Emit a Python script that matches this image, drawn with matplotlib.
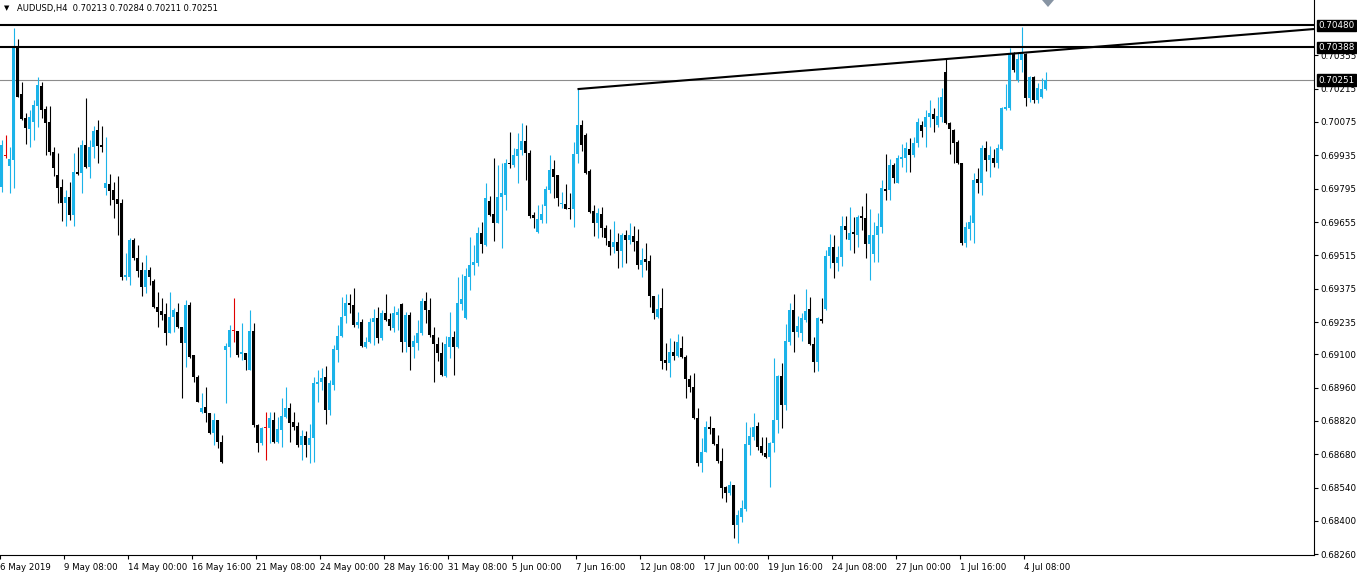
import matplotlib
matplotlib.use("Agg")
import matplotlib.pyplot as plt
import matplotlib.transforms as mtransforms
from matplotlib.patches import Polygon

# AUDUSD H4 candles, one per bar
opens = [
    0.69802, 0.69932, 0.69890, 0.69915, 0.70385, 0.70192, 0.70091, 0.70045, 0.70075, 0.70142,
    0.70226, 0.70129, 0.70075, 0.69949, 0.69852, 0.69802, 0.69734, 0.69760, 0.69684, 0.69865,
    0.69860, 0.69978, 0.69886, 0.69970, 0.70041, 0.69978, 0.69797, 0.69814, 0.69789, 0.69751,
    0.69734, 0.69424, 0.69424, 0.69579, 0.69503, 0.69453, 0.69382, 0.69453, 0.69407, 0.69298,
    0.69282, 0.69269, 0.69189, 0.69257, 0.69278, 0.69215, 0.69147, 0.69307, 0.69097, 0.69005,
    0.68858, 0.68878, 0.68853, 0.68769, 0.68824, 0.68732, 0.69118, 0.69131, 0.69198, 0.69198,
    0.69101, 0.69105, 0.69034, 0.69198, 0.68803, 0.68727, 0.68790, 0.68790, 0.68824, 0.68732,
    0.68782, 0.68837, 0.68874, 0.68816, 0.68799, 0.68719, 0.68757, 0.68719, 0.68748, 0.68975,
    0.68984, 0.69005, 0.68866, 0.68971, 0.69118, 0.69177, 0.69261, 0.69315, 0.69307, 0.69223,
    0.69236, 0.69131, 0.69152, 0.69236, 0.69252, 0.69168, 0.69273, 0.69248, 0.69210, 0.69265,
    0.69311, 0.69152, 0.69265, 0.69131, 0.69147, 0.69189, 0.69324, 0.69286, 0.69181, 0.69143,
    0.69105, 0.69009, 0.69131, 0.69173, 0.69131, 0.69311, 0.69252, 0.69424, 0.69474, 0.69482,
    0.69608, 0.69558, 0.69743, 0.69688, 0.69650, 0.69760, 0.69768, 0.69902, 0.69894, 0.69932,
    0.69957, 0.69995, 0.69944, 0.69684, 0.69613, 0.69663, 0.69722, 0.69789, 0.69877, 0.69852,
    0.69730, 0.69730, 0.69714, 0.69709, 0.69940, 0.70062, 0.70020, 0.69869, 0.69701, 0.69650,
    0.69688, 0.69629, 0.69575, 0.69550, 0.69571, 0.69533, 0.69600, 0.69579, 0.69596, 0.69575,
    0.69474, 0.69499, 0.69491, 0.69344, 0.69257, 0.69294, 0.69076, 0.69063, 0.69110, 0.69093,
    0.69126, 0.69088, 0.68996, 0.68962, 0.68832, 0.68643, 0.68690, 0.68795, 0.68790, 0.68723,
    0.68652, 0.68543, 0.68517, 0.68551, 0.68383, 0.68417, 0.68450, 0.68719, 0.68753, 0.68799,
    0.68715, 0.68685, 0.68669, 0.68727, 0.68824, 0.69009, 0.68887, 0.69152, 0.69286, 0.69194,
    0.69189, 0.69244, 0.69290, 0.69143, 0.69068, 0.69248, 0.69290, 0.69512, 0.69550, 0.69482,
    0.69508, 0.69638, 0.69579, 0.69613, 0.69600, 0.69680, 0.69671, 0.69562, 0.69520, 0.69600,
    0.69634, 0.69793, 0.69789, 0.69894, 0.69818, 0.69919, 0.69923, 0.69961, 0.69936, 0.69986,
    0.70062, 0.70054, 0.70096, 0.70108, 0.70062, 0.70096, 0.70285, 0.70070, 0.70041, 0.69991,
    0.69902, 0.69566, 0.69625, 0.69650, 0.69835, 0.69818, 0.69966, 0.69915, 0.69923, 0.69902,
    0.69961, 0.70129, 0.70133, 0.70360, 0.70251, 0.70335, 0.70360, 0.70175, 0.70264, 0.70167,
    0.70180, 0.70213,
]
highs = [
    0.69999, 0.70020, 0.69970, 0.70469, 0.70423, 0.70243, 0.70112, 0.70125, 0.70167, 0.70264,
    0.70243, 0.70142, 0.70142, 0.69970, 0.69944, 0.69835, 0.69789, 0.69823, 0.69944, 0.69970,
    0.69999, 0.70175, 0.69999, 0.70058, 0.70083, 0.70058, 0.70012, 0.69856, 0.69823, 0.69848,
    0.69751, 0.69524, 0.69587, 0.69587, 0.69558, 0.69487, 0.69516, 0.69466, 0.69415, 0.69361,
    0.69336, 0.69315, 0.69361, 0.69294, 0.69315, 0.69215, 0.69328, 0.69320, 0.69097, 0.69013,
    0.68937, 0.68962, 0.68853, 0.68853, 0.68824, 0.68761, 0.69147, 0.69223, 0.69336, 0.69198,
    0.69231, 0.69105, 0.69286, 0.69231, 0.68807, 0.68795, 0.68858, 0.68858, 0.68858, 0.68837,
    0.68916, 0.68962, 0.68895, 0.68858, 0.68816, 0.68782, 0.68778, 0.68807, 0.69005, 0.69034,
    0.69042, 0.69051, 0.68992, 0.69139, 0.69223, 0.69340, 0.69353, 0.69353, 0.69378, 0.69278,
    0.69248, 0.69173, 0.69252, 0.69290, 0.69298, 0.69286, 0.69353, 0.69273, 0.69303, 0.69294,
    0.69315, 0.69278, 0.69278, 0.69181, 0.69244, 0.69336, 0.69361, 0.69336, 0.69215, 0.69173,
    0.69152, 0.69177, 0.69278, 0.69198, 0.69424, 0.69436, 0.69461, 0.69592, 0.69558, 0.69634,
    0.69655, 0.69818, 0.69764, 0.69923, 0.69894, 0.69902, 0.69919, 0.70033, 0.69966, 0.70028,
    0.70070, 0.70062, 0.69957, 0.69697, 0.69726, 0.69730, 0.69806, 0.69936, 0.69915, 0.69852,
    0.69781, 0.69814, 0.69776, 0.69991, 0.70213, 0.70083, 0.70028, 0.69877, 0.69726, 0.69714,
    0.69718, 0.69642, 0.69625, 0.69659, 0.69608, 0.69608, 0.69621, 0.69650, 0.69638, 0.69625,
    0.69545, 0.69566, 0.69516, 0.69344, 0.69353, 0.69378, 0.69147, 0.69168, 0.69156, 0.69185,
    0.69177, 0.69097, 0.69013, 0.69021, 0.68874, 0.68748, 0.68820, 0.68841, 0.68790, 0.68761,
    0.68706, 0.68547, 0.68568, 0.68551, 0.68446, 0.68488, 0.68816, 0.68795, 0.68853, 0.68816,
    0.68753, 0.68753, 0.68732, 0.69084, 0.69013, 0.69063, 0.69227, 0.69315, 0.69353, 0.69261,
    0.69273, 0.69374, 0.69340, 0.69173, 0.69257, 0.69336, 0.69537, 0.69604, 0.69600, 0.69554,
    0.69680, 0.69680, 0.69718, 0.69676, 0.69684, 0.69722, 0.69776, 0.69709, 0.69655, 0.69692,
    0.69831, 0.69940, 0.69919, 0.69902, 0.69936, 0.69982, 0.69991, 0.70007, 0.70012, 0.70091,
    0.70079, 0.70125, 0.70167, 0.70133, 0.70180, 0.70217, 0.70339, 0.70075, 0.70045, 0.69999,
    0.69902, 0.69655, 0.69684, 0.69860, 0.69881, 0.69978, 0.69995, 0.69974, 0.69961, 0.69982,
    0.70138, 0.70234, 0.70385, 0.70369, 0.70365, 0.70474, 0.70365, 0.70268, 0.70268, 0.70239,
    0.70260, 0.70284,
]
lows = [
    0.69781, 0.69923, 0.69776, 0.69797, 0.70180, 0.70083, 0.69982, 0.69970, 0.69999, 0.70054,
    0.70091, 0.69936, 0.69936, 0.69848, 0.69734, 0.69659, 0.69638, 0.69663, 0.69638, 0.69852,
    0.69776, 0.69881, 0.69839, 0.69923, 0.69902, 0.69949, 0.69768, 0.69726, 0.69671, 0.69600,
    0.69411, 0.69411, 0.69390, 0.69495, 0.69424, 0.69344, 0.69356, 0.69390, 0.69294, 0.69215,
    0.69244, 0.69139, 0.69189, 0.69194, 0.69210, 0.68916, 0.69046, 0.69084, 0.68984, 0.68900,
    0.68853, 0.68816, 0.68765, 0.68719, 0.68706, 0.68643, 0.68895, 0.69088, 0.69152, 0.69088,
    0.69076, 0.69034, 0.69034, 0.68795, 0.68690, 0.68719, 0.68656, 0.68727, 0.68727, 0.68727,
    0.68711, 0.68832, 0.68732, 0.68782, 0.68711, 0.68656, 0.68669, 0.68643, 0.68648, 0.68900,
    0.68950, 0.68807, 0.68845, 0.68950, 0.69068, 0.69173, 0.69231, 0.69273, 0.69215, 0.69210,
    0.69131, 0.69126, 0.69147, 0.69139, 0.69147, 0.69160, 0.69240, 0.69202, 0.69194, 0.69202,
    0.69110, 0.69110, 0.69034, 0.69084, 0.69118, 0.69181, 0.69231, 0.69173, 0.68984, 0.69072,
    0.69009, 0.69005, 0.69084, 0.69013, 0.69126, 0.69286, 0.69248, 0.69369, 0.69432, 0.69470,
    0.69524, 0.69554, 0.69680, 0.69575, 0.69650, 0.69545, 0.69705, 0.69881, 0.69886, 0.69818,
    0.69936, 0.69831, 0.69671, 0.69629, 0.69608, 0.69650, 0.69650, 0.69776, 0.69755, 0.69722,
    0.69714, 0.69709, 0.69667, 0.69634, 0.69902, 0.69953, 0.69856, 0.69692, 0.69596, 0.69587,
    0.69592, 0.69558, 0.69516, 0.69524, 0.69461, 0.69466, 0.69482, 0.69562, 0.69533, 0.69457,
    0.69424, 0.69453, 0.69298, 0.69248, 0.69252, 0.69038, 0.69034, 0.69005, 0.69076, 0.69088,
    0.69084, 0.68916, 0.68942, 0.68828, 0.68631, 0.68606, 0.68690, 0.68765, 0.68719, 0.68643,
    0.68496, 0.68480, 0.68509, 0.68328, 0.68307, 0.68396, 0.68442, 0.68677, 0.68740, 0.68698,
    0.68677, 0.68664, 0.68543, 0.68690, 0.68769, 0.68790, 0.68866, 0.69139, 0.69110, 0.69173,
    0.69156, 0.69236, 0.69139, 0.69026, 0.69030, 0.69231, 0.69286, 0.69461, 0.69419, 0.69449,
    0.69470, 0.69583, 0.69537, 0.69524, 0.69550, 0.69621, 0.69503, 0.69411, 0.69487, 0.69487,
    0.69608, 0.69747, 0.69747, 0.69818, 0.69818, 0.69886, 0.69865, 0.69865, 0.69928, 0.69970,
    0.70012, 0.69970, 0.70054, 0.70033, 0.70054, 0.70075, 0.70066, 0.69940, 0.69902, 0.69898,
    0.69558, 0.69550, 0.69579, 0.69566, 0.69776, 0.69768, 0.69869, 0.69844, 0.69886, 0.69881,
    0.69957, 0.70125, 0.70125, 0.70285, 0.70243, 0.70285, 0.70142, 0.70159, 0.70154, 0.70154,
    0.70175, 0.70211,
]
closes = [
    0.69978, 0.69932, 0.69919, 0.70385, 0.70180, 0.70087, 0.70049, 0.70096, 0.70146, 0.70230,
    0.70125, 0.70070, 0.69949, 0.69881, 0.69797, 0.69734, 0.69760, 0.69684, 0.69865, 0.69856,
    0.69978, 0.69886, 0.69970, 0.70037, 0.69974, 0.69970, 0.69818, 0.69785, 0.69747, 0.69730,
    0.69424, 0.69432, 0.69579, 0.69503, 0.69449, 0.69382, 0.69453, 0.69424, 0.69298, 0.69278,
    0.69265, 0.69189, 0.69257, 0.69286, 0.69215, 0.69147, 0.69307, 0.69088, 0.69005, 0.68900,
    0.68874, 0.68853, 0.68769, 0.68824, 0.68732, 0.68648, 0.69135, 0.69202, 0.69198, 0.69097,
    0.69110, 0.69076, 0.69198, 0.68803, 0.68727, 0.68790, 0.68790, 0.68832, 0.68732, 0.68786,
    0.68841, 0.68874, 0.68811, 0.68795, 0.68719, 0.68757, 0.68719, 0.68748, 0.68979, 0.68984,
    0.69000, 0.68866, 0.68979, 0.69122, 0.69177, 0.69257, 0.69315, 0.69307, 0.69223, 0.69236,
    0.69135, 0.69152, 0.69236, 0.69252, 0.69168, 0.69273, 0.69244, 0.69219, 0.69273, 0.69278,
    0.69152, 0.69265, 0.69131, 0.69156, 0.69189, 0.69324, 0.69286, 0.69181, 0.69143, 0.69105,
    0.69013, 0.69143, 0.69173, 0.69131, 0.69315, 0.69332, 0.69428, 0.69474, 0.69487, 0.69608,
    0.69562, 0.69755, 0.69684, 0.69650, 0.69760, 0.69776, 0.69902, 0.69898, 0.69936, 0.69961,
    0.69995, 0.69944, 0.69680, 0.69671, 0.69667, 0.69688, 0.69793, 0.69873, 0.69844, 0.69755,
    0.69734, 0.69709, 0.69709, 0.69940, 0.70062, 0.69978, 0.69860, 0.69697, 0.69650, 0.69692,
    0.69629, 0.69587, 0.69550, 0.69571, 0.69533, 0.69600, 0.69579, 0.69600, 0.69571, 0.69474,
    0.69495, 0.69487, 0.69344, 0.69273, 0.69290, 0.69072, 0.69063, 0.69110, 0.69093, 0.69152,
    0.69088, 0.68996, 0.68962, 0.68832, 0.68643, 0.68690, 0.68795, 0.68786, 0.68723, 0.68652,
    0.68538, 0.68517, 0.68551, 0.68383, 0.68425, 0.68454, 0.68723, 0.68757, 0.68795, 0.68711,
    0.68685, 0.68669, 0.68727, 0.68824, 0.69009, 0.68887, 0.69156, 0.69286, 0.69194, 0.69219,
    0.69252, 0.69282, 0.69143, 0.69068, 0.69252, 0.69240, 0.69512, 0.69550, 0.69482, 0.69508,
    0.69638, 0.69621, 0.69608, 0.69604, 0.69676, 0.69671, 0.69562, 0.69600, 0.69600, 0.69638,
    0.69797, 0.69785, 0.69894, 0.69839, 0.69923, 0.69928, 0.69966, 0.69936, 0.69986, 0.70075,
    0.70037, 0.70096, 0.70112, 0.70087, 0.70100, 0.70180, 0.70070, 0.70045, 0.69986, 0.69902,
    0.69566, 0.69634, 0.69655, 0.69831, 0.69818, 0.69966, 0.69915, 0.69936, 0.69902, 0.69966,
    0.70133, 0.70138, 0.70360, 0.70293, 0.70339, 0.70360, 0.70175, 0.70264, 0.70167, 0.70218,
    0.70213, 0.70251,
]

# time axis labels (bar index where each label sits)
date_bars = [0, 16, 32, 48, 64, 80, 96, 112, 128, 144, 160, 176, 192, 208, 224, 240, 256]
date_labels = ["6 May 2019", "9 May 08:00", "14 May 00:00", "16 May 16:00", "21 May 08:00",
               "24 May 00:00", "28 May 16:00", "31 May 08:00", "5 Jun 00:00", "7 Jun 16:00",
               "12 Jun 08:00", "17 Jun 00:00", "19 Jun 16:00", "24 Jun 08:00", "27 Jun 00:00",
               "1 Jul 16:00", "4 Jul 08:00"]

price_ticks = [0.70355, 0.70215, 0.70075, 0.69935, 0.69795, 0.69655, 0.69515, 0.69375,
               0.69235, 0.69100, 0.68960, 0.68820, 0.68680, 0.68540, 0.68400, 0.68260]

levels = [0.70480, 0.70388]
last_price = 0.70251
trend_bars = [144, 236]
trend_prices = [0.70213, 0.70339]

BULL = "#1bb3e9"
BEAR = "#000000"
DOJI = "#e00000"

W, H = 1357, 577
fig = plt.figure(figsize=(W / 100, H / 100), dpi=100)
ax = fig.add_axes([0, 22 / H, 1314 / W, 555 / H])

px = 0.00004198  # one pixel in price
ax.set_xlim(-0.375, -0.375 + 1314 / 4)
ax.set_ylim(0.70587 - 555 * px, 0.70587)

xs = list(range(len(closes)))
cols = []
for o, c in zip(opens, closes):
    cols.append(BULL if c > o else (BEAR if c < o else DOJI))

ax.vlines(xs, lows, highs, colors=cols, linewidth=0.8, zorder=3)
bottoms = [min(o, c) for o, c in zip(opens, closes)]
heights = [max(abs(c - o), px) for o, c in zip(opens, closes)]
ax.bar(xs, heights, bottom=bottoms, width=0.75, color=cols, linewidth=0, zorder=3)

# horizontal levels, bid line and the rising trend line
for lv in levels:
    ax.axhline(lv, color="black", linewidth=1.5, zorder=4)
ax.axhline(last_price, color="#8c8c8c", linewidth=0.8, zorder=2)
x0, x1 = trend_bars
y0, y1 = trend_prices
slope = (y1 - y0) / (x1 - x0)
xend = ax.get_xlim()[1]
ax.plot([x0, xend], [y0, y0 + slope * (xend - x0)], color="black", linewidth=1.5,
        zorder=4, solid_capstyle="butt")

# axes styling, MT4 look
for s in ("left", "top"):
    ax.spines[s].set_visible(False)
for s in ("right", "bottom"):
    ax.spines[s].set_linewidth(0.8)
ax.yaxis.tick_right()
ax.set_yticks(price_ticks)
ax.set_yticklabels([f"{p:.5f}" for p in price_ticks])
ax.tick_params(axis="y", length=3, width=0.8, pad=1.5, labelsize=6.3)
ax.set_xticks([b - 0.3 for b in date_bars])
ax.set_xticklabels(date_labels, ha="left")
ax.tick_params(axis="x", length=3, width=0.8, pad=3, labelsize=6.2)

trans = mtransforms.blended_transform_factory(ax.transAxes, ax.transData)
for lv in levels + [last_price]:
    ax.text(1.0035, lv, f"{lv:.5f}", transform=trans, ha="left", va="center",
            color="white", fontsize=6.3, clip_on=False, zorder=10,
            bbox=dict(boxstyle="square,pad=0.15", fc="black", ec="black"))

# header and chart shift marker
fig.text(4 / W, 1 - 8 / H, "\u25bc", fontsize=5, va="center", ha="left")
fig.text(17 / W, 1 - 8 / H, "AUDUSD,H4  0.70213 0.70284 0.70211 0.70251",
         fontsize=6.0, va="center", ha="left")
fig.patches.append(Polygon([(1042 / W, 1.0), (1054 / W, 1.0), (1048 / W, 1 - 7 / H)],
                           closed=True, transform=fig.transFigure, facecolor="#8794a3",
                           edgecolor="none"))

fig.savefig("out.png", dpi=100, facecolor="white")
